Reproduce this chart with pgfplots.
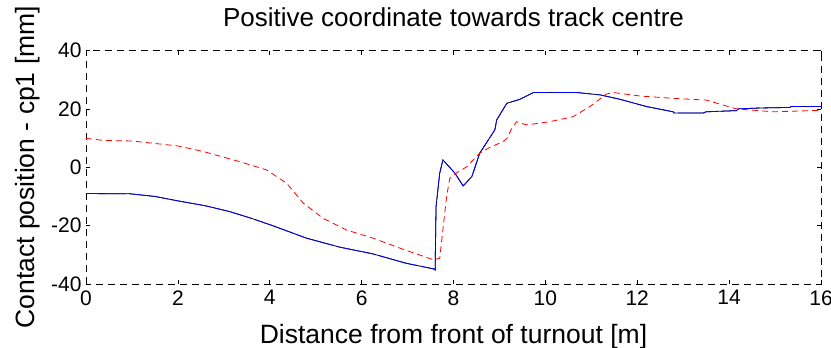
\documentclass[border=0pt]{standalone}
\usepackage{fontspec}
\setmainfont{Liberation Sans}
\usepackage{pgfplots}
\pgfplotsset{compat=1.18}
\begin{document}
\begin{tikzpicture}
\begin{axis}[
  name=ax,
  scale only axis,
  width=735pt, height=233.5pt,
  xmin=0, xmax=16, ymin=-40, ymax=40,
  xtick={0,2,4,6,8,10,12,14,16},
  xticklabels={0,2,4,6,8,10,12,14,16},
  ytick={-40,-20,0,20,40},
  yticklabels={-40,-20,0,20,40},
  tick align=inside,
  major tick length=4pt,
  tick style={black, solid, line width=0.6pt},
  axis line style={black, line width=0.8pt, dash pattern=on 7pt off 5pt},
  ticklabel style={font=\fontsize{21}{24}\selectfont},
  xticklabel style={yshift=-3pt},
  yticklabel style={xshift=-1pt},
  title={Positive coordinate towards track centre},
  title style={font=\fontsize{26}{30}\selectfont, at={(axis description cs:0.5,1.075)}, anchor=base},
  xlabel={Distance from front of turnout [m]},
  ylabel={Contact position - cp1 [mm]},
  label style={font=\fontsize{26.5}{30}\selectfont},
  xlabel style={at={(axis description cs:0.5,-0.255)}, anchor=base},
  ylabel style={at={(axis description cs:-0.079,0.5)}, anchor=center},
]
\addplot[black, line width=0.8pt] coordinates {
(0,-9) (0.96,-9.1) (1.5,-10) (1.96,-11.4) (2.6,-13.2) (3.13,-15.2) (3.6,-17.5) (4.08,-20.1) (4.8,-24.3)
(5.53,-27.4) (6.25,-29.7) (6.97,-32.9) (7.56,-34.8) (7.6,-35.2)
(7.62,-13.5) (7.70,-2) (7.77,2.5) (8.03,-2) (8.21,-6.4) (8.40,-3.2)
(8.57,4.8) (8.9,12.8) (8.94,16.2) (9.16,21.9) (9.45,23.3) (9.74,25.6)
(10.68,25.6) (11.19,24.8) (11.62,23.3) (12.2,20.8) (12.78,19.0)
(12.8,18.6) (13.44,18.6) (13.5,19) (14.16,19.4) (14.2,20) (14.67,20.3)
(15.32,20.5) (15.35,20.8) (16,20.8)
};
\addplot[blue, line width=0.8pt, dash pattern=on 40pt off 3pt] coordinates {
(0,-9) (0.96,-9.1) (1.5,-10) (1.96,-11.4) (2.6,-13.2) (3.13,-15.2) (3.6,-17.5) (4.08,-20.1) (4.8,-24.3)
(5.53,-27.4) (6.25,-29.7) (6.97,-32.9) (7.56,-34.8) (7.6,-35.2)
(7.62,-13.5) (7.70,-2) (7.77,2.5) (8.03,-2) (8.21,-6.4) (8.40,-3.2)
(8.57,4.8) (8.9,12.8) (8.94,16.2) (9.16,21.9) (9.45,23.3) (9.74,25.6)
(10.68,25.6) (11.19,24.8) (11.62,23.3) (12.2,20.8) (12.78,19.0)
(12.8,18.6) (13.44,18.6) (13.5,19) (14.16,19.4) (14.2,20) (14.67,20.3)
(15.32,20.5) (15.35,20.8) (16,20.8)
};
\addplot[red, line width=0.8pt, dash pattern=on 6pt off 4pt] coordinates {
(0,9.9) (0.38,9.2) (1,9) (2,7.3) (2.55,5.4) (3.35,1.9) (3.93,-0.9)
(4.37,-5.5) (4.73,-12.3) (5.16,-17.5) (5.67,-21.5) (6.25,-24.3)
(6.83,-27.7) (7.56,-31.7) (7.7,-31.2) (7.85,-10) (7.92,-3.8) (7.99,-3)
(8.06,-2) (8.29,0.2) (8.57,4.8) (8.79,6.8) (9.08,8.8) (9.16,9.8)
(9.26,13) (9.37,15.6) (9.59,14.5) (10.09,15.6) (10.6,17.3) (10.97,20.8)
(11.33,25.1) (11.48,25.6) (12.06,24.4) (12.78,23.6) (13.51,23)
(13.87,21.3) (14.16,20) (14.96,19) (16,19.5)
};
\end{axis}
\pgfresetboundingbox
\path[use as bounding box] ([shift={(-86pt,-64pt)}]ax.south west) rectangle ([shift={(10pt,50.5pt)}]ax.north east);
\end{tikzpicture}
\end{document}
